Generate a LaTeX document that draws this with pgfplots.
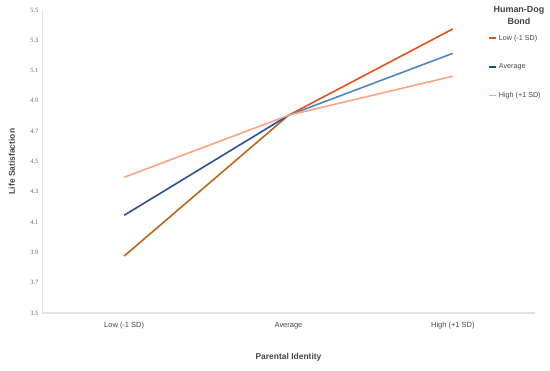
\documentclass[border=0pt]{standalone}
\usepackage{fontspec}
\setmainfont{Liberation Sans}
\newfontfamily\tickfont{Liberation Serif}
\usepackage{pgfplots}
\pgfplotsset{compat=1.18}
\definecolor{lowc}{RGB}{232,80,26}
\definecolor{olivec}{RGB}{139,125,30}
\definecolor{navyc}{RGB}{50,55,150}
\definecolor{avgc}{RGB}{31,78,137}
\definecolor{midblue}{RGB}{40,100,165}
\definecolor{lightblue}{RGB}{123,168,214}
\definecolor{highc}{RGB}{249,165,132}
\definecolor{axgray}{RGB}{226,226,226}
\definecolor{txtgray}{RGB}{70,70,70}
\begin{document}
\begin{tikzpicture}
\useasboundingbox (-42bp,-58bp) rectangle (508bp,313bp);
\begin{axis}[
  at={(0,0)}, anchor=south west,
  scale only axis, width=493bp, height=303bp,
  xmin=-0.5, xmax=2.5, ymin=3.5, ymax=5.5,
  xtick={0,1,2}, xticklabels={Low (-1 SD),Average,High (+1 SD)},
  ytick={3.5,3.7,...,5.6},
  /pgf/number format/fixed, /pgf/number format/precision=1,
  /pgf/number format/fixed zerofill, /pgf/number format/assume math mode=true,
  yticklabel style={font=\tickfont\fontsize{6.5}{7}\selectfont, text=black!60},
  xticklabel style={font=\fontsize{7.5}{9}\selectfont, text=txtgray, yshift=-6bp},
  major tick length=0pt,
  axis x line*=bottom, axis y line*=left,
  x axis line style={axgray, line width=1.2bp, -},
  y axis line style={axgray, line width=0.8bp, -},
  xlabel={\bfseries Parental Identity},
  ylabel={\bfseries Life Satisfaction},
  xlabel style={font=\fontsize{8.5}{10}\selectfont, text=txtgray,
    at={(axis description cs:0.5,-0.145)}, anchor=center},
  ylabel style={font=\fontsize{8.5}{10}\selectfont, text=txtgray,
    at={(axis description cs:-0.061,0.5)}, anchor=center},
  point meta min=0, point meta max=1,
  legend style={at={(0.905,0.925)}, anchor=north west, draw=none, fill=none,
    font=\fontsize{7.2}{8.5}\selectfont, text=txtgray, row sep=18bp,
    inner sep=0pt, cells={anchor=west}},
  legend image code/.code={\draw[#1, line width=1.6bp] (0bp,0bp) -- (7bp,0bp);},
  clip=false,
]
\addplot[mesh, shader=interp, point meta=explicit, line width=1.6bp,
  colormap={lowmap}{color(0)=(olivec) color(1)=(lowc)}, forget plot]
  table[meta=c] {
  x y c
  0 3.876 0
  1 4.805 1
  2 5.375 1
};
\addplot[mesh, shader=interp, point meta=explicit, line width=1.6bp,
  colormap={avgmap}{color(0)=(navyc) color(0.5)=(midblue) color(1)=(lightblue)}, forget plot]
  table[meta=c] {
  x y c
  0 4.145 0
  1 4.805 0.5
  2 5.214 1
};
\addplot[highc, line width=1.6bp, forget plot] table {
  x y
  0 4.396
  1 4.805
  2 5.063
};
\addlegendimage{lowc}
\addlegendentry{Low (-1 SD)}
\addlegendimage{avgc}
\addlegendentry{Average}
\addlegendimage{highc}
\addlegendentry{High (+1 SD)}
\node[font=\bfseries\fontsize{9}{12}\selectfont, text=txtgray, align=center, anchor=north]
  at (rel axis cs:0.9675,1.025) {Human-Dog\\Bond};
\end{axis}
\end{tikzpicture}
\end{document}
